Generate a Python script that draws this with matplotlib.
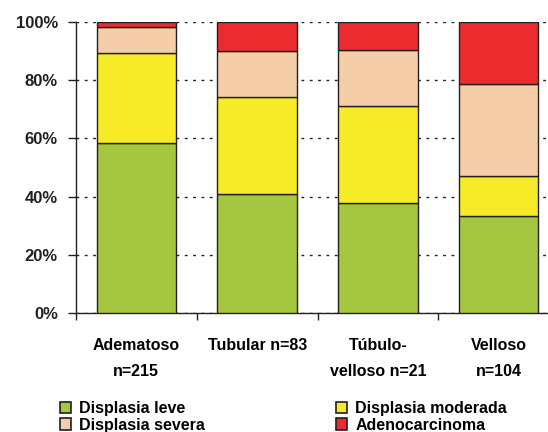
import matplotlib
matplotlib.use("Agg")
import matplotlib.pyplot as plt
from matplotlib.patches import Patch
from matplotlib.ticker import FixedLocator

plt.rcParams['font.family'] = ['Liberation Sans', 'DejaVu Sans']
plt.rcParams['font.weight'] = 'bold'

categories = ["Adematoso\nn=215", "Tubular n=83", "Túbulo-\nvelloso n=21", "Velloso\nn=104"]
series_names = ["Displasia leve", "Displasia moderada", "Displasia severa", "Adenocarcinoma"]
leve = [58.3, 40.9, 37.8, 33.3]
moderada = [30.9, 33.4, 33.4, 13.9]
severa = [9.1, 15.6, 19.2, 31.5]
adeno = [1.7, 10.1, 9.6, 21.3]
colors = ["#A5C63F", "#F7EB27", "#F5CEA9", "#EC2B2E"]

fig = plt.figure(figsize=(5.48, 4.32), dpi=100)
ax = fig.add_axes([76 / 548, 1 - 313 / 432, (559 - 76) / 548, 291 / 432])

x = list(range(len(categories)))
bottom = [0] * len(categories)
for vals, col, name in zip([leve, moderada, severa, adeno], colors, series_names):
    ax.bar(x, vals, width=0.66, bottom=bottom, color=col, edgecolor="#231F20",
           linewidth=1.0, zorder=3, label=name)
    bottom = [b + v for b, v in zip(bottom, vals)]

ax.set_xlim(-0.5, 3.5)
ax.set_ylim(0, 100)
ax.set_yticks([0, 20, 40, 60, 80, 100])
ax.set_yticklabels(["0%", "20%", "40%", "60%", "80%", "100%"], fontsize=12, fontweight="bold")
ax.yaxis.grid(True, color="#231F20", linestyle=(0, (2, 4)), linewidth=1.0, zorder=0)
ax.tick_params(axis="y", direction="out", length=6, width=1, pad=7, colors="#231F20")

ax.set_xticks(x)
ax.set_xticklabels(categories, fontsize=11.5, fontweight="bold", linespacing=1.9, va="top")
ax.xaxis.set_minor_locator(FixedLocator([-0.5, 0.5, 1.5, 2.5, 3.5]))
ax.tick_params(axis="x", which="major", length=0, pad=18)
ax.tick_params(axis="x", which="minor", direction="out", length=5, width=1, colors="#231F20")

for s in ["top", "right"]:
    ax.spines[s].set_visible(False)
for s in ["left", "bottom"]:
    ax.spines[s].set_color("#231F20")
    ax.spines[s].set_linewidth(1.0)

handles = [Patch(facecolor=c, edgecolor="#231F20", linewidth=1.2) for c in colors]
order = [0, 2, 1, 3]
fig.legend([handles[i] for i in order], [series_names[i] for i in order],
           loc="upper left", bbox_to_anchor=(60 / 548, 1 - 401 / 432), ncol=2,
           frameon=False, borderpad=0, borderaxespad=0, handlelength=0.7,
           handleheight=0.7, handletextpad=0.5, columnspacing=8.2, labelspacing=0.1,
           prop={"size": 11.5, "weight": "bold"})

fig.savefig("out.png", dpi=100)
